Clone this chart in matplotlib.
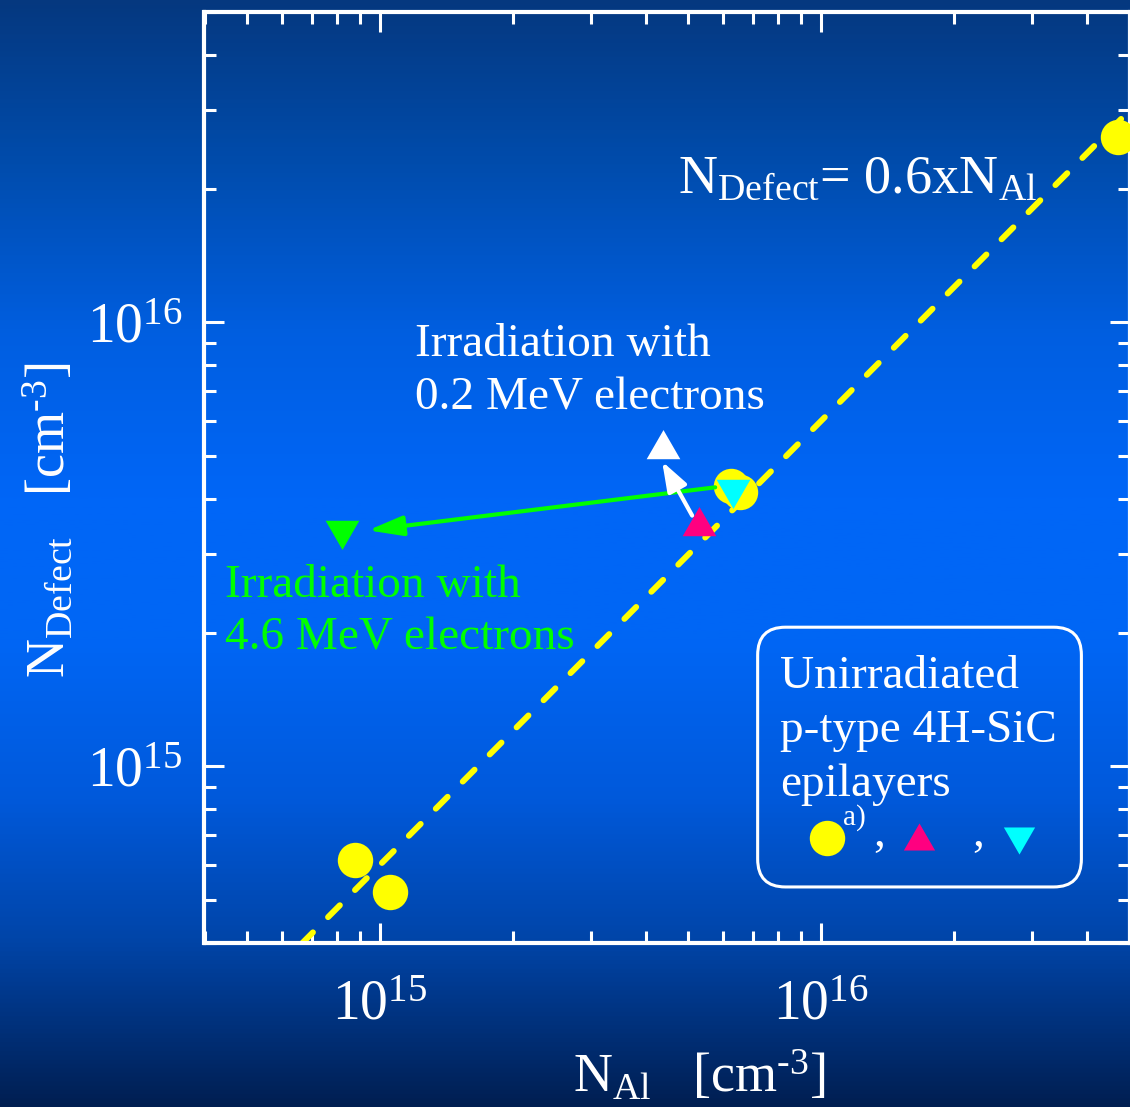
import numpy as np
import matplotlib
matplotlib.use('Agg')
import matplotlib.pyplot as plt
from matplotlib.colors import LinearSegmentedColormap
from matplotlib.patches import FancyBboxPatch
from matplotlib.ticker import LogLocator, NullFormatter

# --- data (cm^-3) ---
al_circle = [8.77e14, 1.054e15, 6.24e15, 6.55e15, 4.71e16]
defect_circle = [6.14e14, 5.20e14, 4.27e15, 4.14e15, 2.61e16]
al_magenta = [5.28e15]
defect_magenta = [3.47e15]
al_cyan = [6.31e15]
defect_cyan = [4.21e15]
al_white = [4.37e15]
defect_white = [5.18e15]
al_green = [8.20e14]
defect_green = [3.40e15]

fit_factor = 0.6
fit_al = np.array([5e14, 1e17])

# arrows: (start, end) in data coords
arrow_green = ((5.75e15, 4.25e15), (9.39e14, 3.40e15))
arrow_white = ((5.10e15, 3.67e15), (4.36e15, 4.86e15))

x_lim = (4e14, 5e16)
y_lim = (4e14, 5e16)

white_lines = ['Irradiation with', '0.2 MeV electrons']
green_lines = ['Irradiation with', '4.6 MeV electrons']
box_lines = ['Unirradiated', 'p-type 4H-SiC', 'epilayers']

plt.rcParams['font.family'] = ['Liberation Serif', 'DejaVu Serif']
plt.rcParams['mathtext.fontset'] = 'custom'
plt.rcParams['mathtext.rm'] = 'Liberation Serif'
plt.rcParams['mathtext.it'] = 'Liberation Serif:italic'
plt.rcParams['mathtext.default'] = 'rm'

W, H = 1130, 1107
fig = plt.figure(figsize=(W / 100, H / 100), dpi=100)

# background gradient
cmap = LinearSegmentedColormap.from_list('bg', [
    (0.00, (0.02, 0.22, 0.50)),
    (0.15, (0.00, 0.30, 0.68)),
    (0.30, (0.00, 0.37, 0.88)),
    (0.45, (0.00, 0.40, 0.97)),
    (0.58, (0.00, 0.40, 0.96)),
    (0.72, (0.00, 0.35, 0.86)),
    (0.85, (0.00, 0.27, 0.66)),
    (1.00, (0.00, 0.12, 0.32)),
])
bg = fig.add_axes([0, 0, 1, 1], zorder=-1)
bg.imshow(np.linspace(0, 1, 512).reshape(-1, 1), aspect='auto', cmap=cmap,
          extent=[0, 1, 0, 1], origin='upper')
bg.axis('off')

ax = fig.add_axes([204.5 / W, 1 - 943 / H, 925 / W, 931 / H])
ax.set_facecolor('none')
ax.set_xscale('log')
ax.set_yscale('log')
ax.set_xlim(*x_lim)
ax.set_ylim(*y_lim)

# fit line
ax.plot(fit_al, fit_factor * fit_al, color='#ffff00', lw=4.3,
        dashes=(2.8, 3.6), dash_capstyle='round', zorder=2)

ax.plot(al_circle, defect_circle, 'o', color='#ffff00', ms=25.5, mew=0,
        zorder=3, clip_on=False)

ax.annotate('', xy=arrow_green[1], xytext=arrow_green[0],
            arrowprops=dict(arrowstyle='-|>,head_length=1.05,head_width=0.3',
                            color='#00ff00', lw=3, shrinkA=0, shrinkB=0,
                            mutation_scale=20), zorder=4)
ax.annotate('', xy=arrow_white[1], xytext=arrow_white[0],
            arrowprops=dict(arrowstyle='-|>,head_length=0.9,head_width=0.32',
                            color='white', lw=3, shrinkA=0, shrinkB=0,
                            mutation_scale=20), zorder=4)

tri = dict(ms=25, mew=1.5, linestyle='none', zorder=5)
ax.plot(al_magenta, defect_magenta, marker=(3, 0, 0), color='#ff0080', **tri)
ax.plot(al_white, defect_white, marker=(3, 0, 0), color='white', **tri)
ax.plot(al_cyan, defect_cyan, marker=(3, 0, 180), color='#00ffff', **tri)
ax.plot(al_green, defect_green, marker=(3, 0, 180), color='#00ff00', **tri)

# axes style
for s in ax.spines.values():
    s.set_color('white')
    s.set_linewidth(3)
for axis in (ax.xaxis, ax.yaxis):
    axis.set_major_locator(LogLocator(base=10))
    axis.set_minor_locator(LogLocator(base=10, subs=np.arange(2, 10)))
    axis.set_minor_formatter(NullFormatter())
ax.tick_params(which='both', direction='in', top=True, right=True,
               color='white', labelcolor='white', width=2.2, labelsize=40)
ax.tick_params(which='major', length=14.5)
ax.tick_params(which='minor', length=8.5)
ax.tick_params(axis='x', pad=26)
ax.tick_params(axis='y', pad=16)


def fp(x, y):
    return x / W, 1 - y / H


def put_lines(x, y0, lines, dy, **kw):
    for i, s in enumerate(lines):
        fig.text(*fp(x, y0 + i * dy), s, va='baseline', **kw)


# annotations
fig.text(*fp(678, 193), r'N$_{Defect}$= 0.6xN$_{Al}$', color='white',
         fontsize=39, va='baseline')
put_lines(415, 356, white_lines, 54, color='white', fontsize=34)
put_lines(225, 597, green_lines, 53, color='#00ff00', fontsize=34)

# legend box
ax.add_patch(FancyBboxPatch((0.598, 0.0602), 0.350, 0.279,
                            boxstyle='round,pad=0,rounding_size=0.03',
                            transform=ax.transAxes, fc='none', ec='white',
                            lw=2.2, zorder=6))
put_lines(780, 688, box_lines, 54, color='white', fontsize=34)
ax.plot([0.673], [0.1128], 'o', color='#ffff00', ms=25.5, mew=0,
        transform=ax.transAxes, clip_on=False, zorder=7)
ax.plot([0.7724], [0.1096], marker=(3, 0, 0), color='#ff0080',
        transform=ax.transAxes, clip_on=False, ms=23, mew=1.5, zorder=7)
ax.plot([0.8805], [0.1149], marker=(3, 0, 180), color='#00ffff',
        transform=ax.transAxes, clip_on=False, ms=23, mew=1.5, zorder=7)
fig.text(*fp(843, 825), 'a)', color='white', fontsize=21, va='baseline')
fig.text(*fp(873, 846), ',', color='white', fontsize=34, va='baseline')
fig.text(*fp(972, 846), ',', color='white', fontsize=34, va='baseline')

# axis labels
fig.text(*fp(699, 1093), 'N$_{Al}$   [cm$^{\u2010 3}$]', color='white',
         fontsize=39, ha='center', va='baseline')
fig.text(*fp(50, 520), 'N$_{Defect}$   [cm$^{\u2010 3}$]', color='white',
         fontsize=39, ha='center', va='center', rotation=90)

fig.savefig('out.png', dpi=100)
